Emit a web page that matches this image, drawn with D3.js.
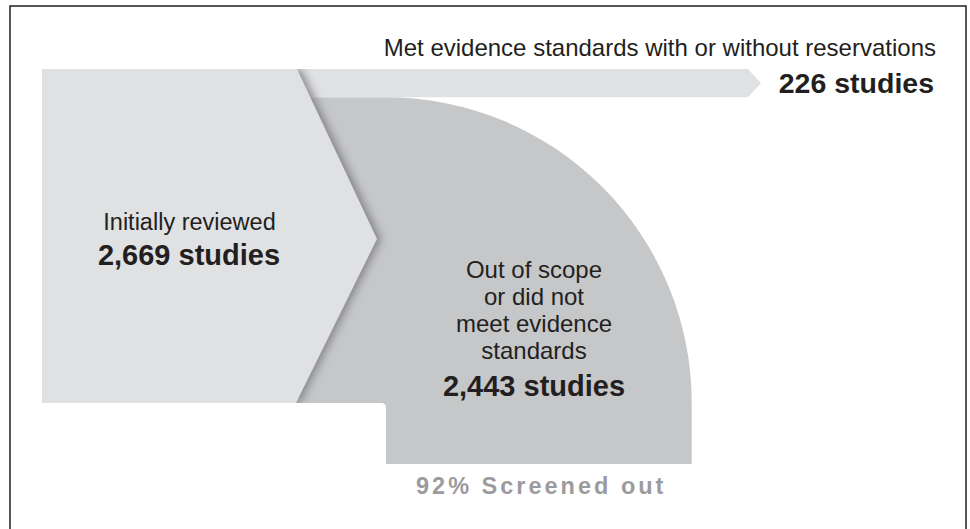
<!DOCTYPE html>
<html>
<head>
<meta charset="utf-8">
<script src="https://cdn.jsdelivr.net/npm/d3@7"></script>
<style>
  html, body { margin: 0; padding: 0; background: #fff; }
  svg { display: block; font-family: "Liberation Sans", Arial, Helvetica, sans-serif; }
</style>
</head>
<body>
<svg id="chart" width="970" height="529"></svg>
<script>
// ---- data ----
const stages = ["Initially reviewed", "Met evidence standards with or without reservations", "Out of scope or did not meet evidence standards"];
const studies = [2669, 226, 2443];
const outLabelLines = ["Out of scope", "or did not", "meet evidence", "standards"];
const screenedLabel = "Screened out";

const total = studies[0], met = studies[1], out = studies[2];
const fmt = d3.format(",");
const pct = d3.format(".0%");

// ---- layout ----
const svg = d3.select("#chart");
const LIGHT = "#e0e1e3", DARK = "#c6c7c9", INK = "#231f20", MUTED = "#9b9b9d";

// vertical scale: studies -> pixels of band thickness (stacked from the top)
const y = d3.scaleLinear().domain([0, total]).range([69, 403]);
const thick = v => y(v) - y(0);

const left = 42, diagTop = 297, tipX = 377, tipY = y(total / 2) + 3;
const corner = 386;                  // inner corner of the turning band
const outW = thick(out);             // width of the downward band
const bandTop = y(0), bandBot = y(met);
const bottom = 464;
const bandEnd = 748, bandTip = 761;

// border
svg.append("rect").attr("x", 10).attr("y", 6).attr("width", 956).attr("height", 540)
  .attr("fill", "none").attr("stroke", INK).attr("stroke-width", 1.5);

// dark "out" flow: horizontal, quarter circle, down
const outPath = d3.path();
outPath.moveTo(270, bandBot);
outPath.lineTo(corner, bandBot);
outPath.arc(corner, y(total), outW, -Math.PI / 2, 0, false);
outPath.lineTo(corner + outW, bottom);
outPath.lineTo(corner, bottom);
outPath.lineTo(corner, y(total) + 5);
outPath.quadraticCurveTo(corner, y(total), corner - 5, y(total));
outPath.lineTo(270, y(total));
outPath.closePath();

// light "met" band with arrow tip
const metPath = d3.path();
metPath.moveTo(270, bandTop);
metPath.lineTo(bandEnd, bandTop);
metPath.lineTo(bandTip, (bandTop + bandBot) / 2);
metPath.lineTo(bandEnd, bandBot);
metPath.lineTo(270, bandBot);
metPath.closePath();

// initial block with chevron
const initPath = d3.path();
initPath.moveTo(left, y(0));
initPath.lineTo(diagTop, y(0));
initPath.lineTo(tipX, tipY);
initPath.lineTo(diagTop - 1, y(total));
initPath.lineTo(left, y(total));
initPath.closePath();

const defs = svg.append("defs");
const clip = defs.append("clipPath").attr("id", "flowClip");
clip.append("path").attr("d", outPath.toString());
clip.append("path").attr("d", metPath.toString());
defs.append("filter").attr("id", "blur").attr("x", "-20%").attr("y", "-20%")
  .attr("width", "140%").attr("height", "140%")
  .append("feGaussianBlur").attr("stdDeviation", 4.5);

svg.append("path").attr("d", outPath.toString()).attr("fill", DARK);
svg.append("path").attr("d", metPath.toString()).attr("fill", LIGHT);

// shadow cast by the chevron onto the flows
svg.append("g").attr("clip-path", "url(#flowClip)")
  .append("path").attr("d", initPath.toString())
  .attr("transform", "translate(4,0)")
  .attr("fill", "#6f7072").attr("opacity", 0.75)
  .attr("filter", "url(#blur)");

svg.append("path").attr("d", initPath.toString()).attr("fill", LIGHT);

// ---- labels ----
svg.append("text").attr("x", 936).attr("y", 55.5).attr("text-anchor", "end")
  .attr("font-size", 24).attr("fill", INK).text(stages[1]);
svg.append("text").attr("x", 934).attr("y", 92.5).attr("text-anchor", "end")
  .attr("font-size", 28.5).attr("font-weight", "bold").attr("fill", INK)
  .text(fmt(met) + " studies");

svg.append("text").attr("x", 189.5).attr("y", 229.5).attr("text-anchor", "middle")
  .attr("font-size", 23.5).attr("fill", INK).text(stages[0]);
svg.append("text").attr("x", 189).attr("y", 265).attr("text-anchor", "middle")
  .attr("font-size", 29).attr("font-weight", "bold").attr("fill", INK)
  .text(fmt(total) + " studies");

const cx = 534;
outLabelLines.forEach((t, i) => {
  svg.append("text").attr("x", cx).attr("y", 278.3 + i * 26.9).attr("text-anchor", "middle")
    .attr("font-size", 24).attr("fill", INK).text(t);
});
svg.append("text").attr("x", cx).attr("y", 396).attr("text-anchor", "middle")
  .attr("font-size", 29).attr("font-weight", "bold").attr("fill", INK)
  .text(fmt(out) + " studies");

svg.append("text").attr("x", 416).attr("y", 494.3)
  .attr("font-size", 23.5).attr("font-weight", "bold").attr("fill", MUTED)
  .attr("letter-spacing", 3)
  .text(pct(out / total) + " " + screenedLabel);
</script>
</body>
</html>
